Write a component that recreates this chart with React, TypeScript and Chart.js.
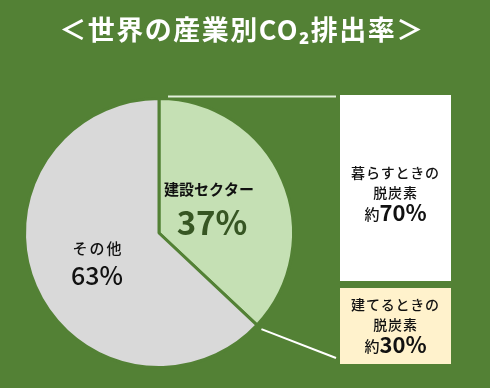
import React, { useEffect, useRef } from "react";
import { Chart, registerables } from "chart.js";

Chart.register(...registerables);

const title = "＜世界の産業別CO₂排出率＞";
const categories = ["建設セクター", "その他"];
const values = [37, 63];
const sliceColors = ["#C5E0B4", "#D9D9D9"];
const breakdownLabels = [["暮らすときの", "脱炭素"], ["建てるときの", "脱炭素"]];
const breakdownValues = [70, 30];
const breakdownColors = ["#FFFFFF", "#FFF2CC"];

const BG = "#538135";
const JP = '"Noto Sans CJK JP", "Noto Sans", sans-serif';

const overlay = {
  id: "overlay",
  beforeDraw(chart: any) {
    const ctx = chart.ctx;
    ctx.save();
    ctx.fillStyle = BG;
    ctx.fillRect(0, 0, chart.width, chart.height);
    ctx.restore();
  },
  afterDraw(chart: any) {
    const ctx = chart.ctx;
    const meta = chart.getDatasetMeta(0);
    const arc0 = meta.data[0];
    const { x: cx, y: cy, outerRadius } = arc0.getProps(["x", "y", "outerRadius"], true);
    ctx.save();
    // title
    ctx.fillStyle = "#FFFFFF";
    ctx.textAlign = "center";
    ctx.textBaseline = "middle";
    ctx.font = `bold 27px ${JP}`;
    ctx.letterSpacing = "1.5px";
    ctx.fillText(title, 242, 30);
    ctx.letterSpacing = "0px";

    // connector lines
    const endAngle = -Math.PI / 2 + (2 * Math.PI * values[0]) / 100;
    ctx.lineWidth = 2;
    ctx.strokeStyle = "#E2EFDA";
    ctx.beginPath();
    ctx.moveTo(cx + 9, cy - outerRadius - 2);
    ctx.lineTo(336, cy - outerRadius - 2);
    ctx.stroke();
    ctx.strokeStyle = "#FFFFFF";
    ctx.beginPath();
    ctx.moveTo(cx + Math.cos(endAngle) * (outerRadius + 6), cy + Math.sin(endAngle) * (outerRadius + 6));
    ctx.lineTo(336, 358);
    ctx.stroke();

    // boxes
    const boxes = [
      { x: 340, y: 95, w: 111, h: 186 },
      { x: 340, y: 288, w: 111, h: 76 },
    ];
    const textY = [
      [173, 193, 213],
      [305, 325, 345],
    ];
    boxes.forEach((b, i) => {
      ctx.fillStyle = breakdownColors[i];
      ctx.fillRect(b.x, b.y, b.w, b.h);
      const mx = b.x + b.w / 2;
      ctx.fillStyle = "#111111";
      ctx.font = `500 14px ${JP}`;
      ctx.textAlign = "center";
      ctx.letterSpacing = "0.8px";
      ctx.fillText(breakdownLabels[i][0], mx, textY[i][0]);
      ctx.fillText(breakdownLabels[i][1], mx, textY[i][1]);
      ctx.letterSpacing = "0px";
      // 約 + value%
      ctx.font = `500 15px ${JP}`;
      const pre = "約";
      const preW = ctx.measureText(pre).width;
      ctx.font = `bold 22px ${JP}`;
      const valTxt = `${breakdownValues[i]}%`;
      const valW = ctx.measureText(valTxt).width;
      const start = mx - (preW + valW) / 2;
      ctx.textAlign = "left";
      ctx.font = `500 15px ${JP}`;
      ctx.fillText(pre, start, textY[i][2] + 1);
      ctx.font = `bold 22px ${JP}`;
      ctx.fillText(valTxt, start + preW, textY[i][2]);
    });

    // slice labels
    ctx.textAlign = "center";
    ctx.fillStyle = "#111111";
    ctx.font = `bold 15px ${JP}`;
    ctx.fillText(categories[0], 209, 189);
    ctx.fillStyle = "#375623";
    ctx.font = `bold 33px ${JP}`;
    ctx.fillText(`${values[0]}%`, 212, 222);
    ctx.fillStyle = "#111111";
    ctx.font = `500 15px ${JP}`;
    ctx.letterSpacing = "2px";
    ctx.fillText(categories[1], 98, 248);
    ctx.letterSpacing = "0px";
    ctx.font = `500 25px ${JP}`;
    ctx.fillText(`${values[1]}%`, 97, 275);
    ctx.restore();
  },
};

export default function App() {
  const ref = useRef<HTMLCanvasElement>(null);
  useEffect(() => {
    document.body.style.margin = "0";
    const chart = new Chart(ref.current!, {
      type: "pie",
      data: {
        labels: categories,
        datasets: [
          {
            data: values,
            backgroundColor: sliceColors,
            borderColor: BG,
            borderWidth: 3,
          },
        ],
      },
      options: {
        animation: false,
        responsive: false,
        events: [],
        layout: { padding: { left: 23, right: 195, top: 97, bottom: 19 } },
        plugins: { legend: { display: false }, tooltip: { enabled: false }, title: { display: false } },
      },
      plugins: [overlay],
    });
    return () => chart.destroy();
  }, []);
  return (
    <div style={{ position: "fixed", left: 0, top: 0, width: 490, height: 388 }}>
      <canvas ref={ref} width={490} height={388} style={{ width: 490, height: 388, display: "block" }} />
    </div>
  );
}
